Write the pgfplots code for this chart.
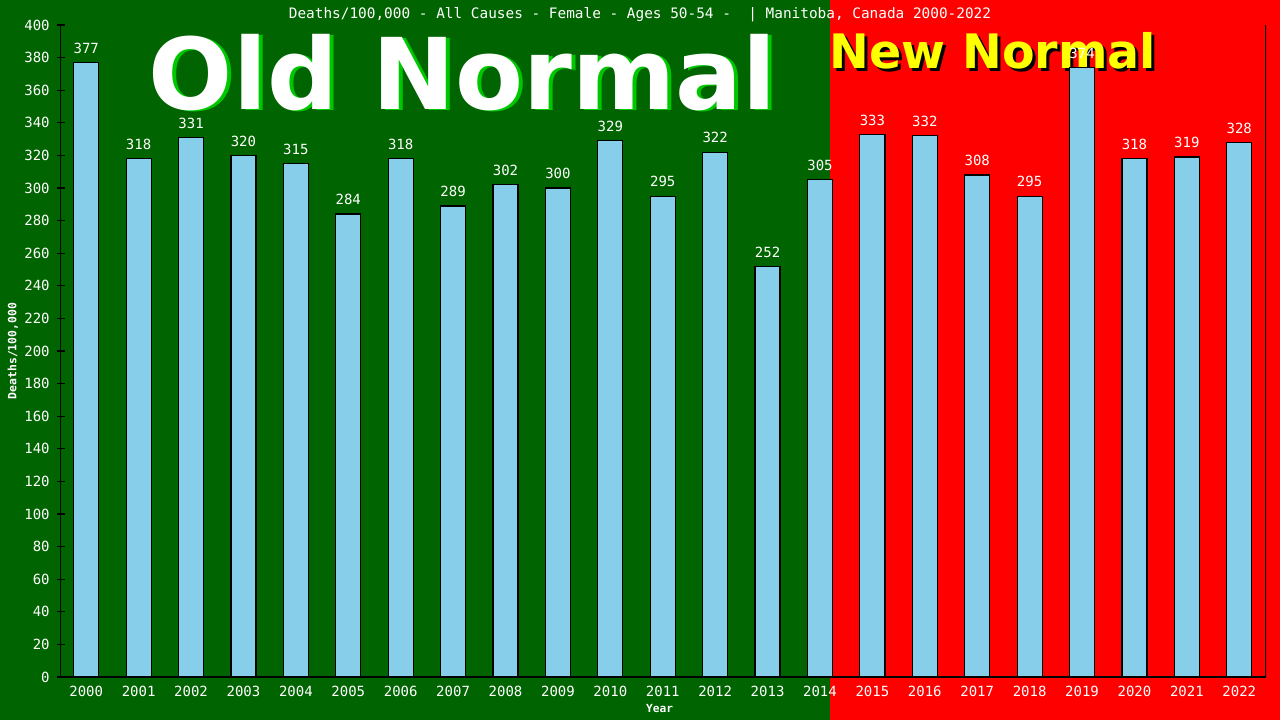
\documentclass[border=0pt]{standalone}
\usepackage{fontspec}
\setmainfont{DejaVu Sans Mono}
\newfontfamily\headfont{DejaVu Sans}
\usepackage{pgfplots}
\usepackage{pgfplotstable}
\pgfplotsset{compat=1.18}

\definecolor{oldbg}{HTML}{006400}
\definecolor{newbg}{HTML}{FF0000}
\definecolor{barfill}{HTML}{87CEEB}
\definecolor{oldshadow}{HTML}{00C800}
\definecolor{newtext}{HTML}{FFFF00}

\pgfplotstableread{
idx year value
0  2000 377
1  2001 318
2  2002 331
3  2003 320
4  2004 315
5  2005 284
6  2006 318
7  2007 289
8  2008 302
9  2009 300
10 2010 329
11 2011 295
12 2012 322
13 2013 252
14 2014 305
15 2015 333
16 2016 332
17 2017 308
18 2018 295
19 2019 374
20 2020 318
21 2021 319
22 2022 328
}\deathdata

\begin{document}
\begin{tikzpicture}[x=0.5pt,y=0.5pt]
\useasboundingbox (0,0) rectangle (1280,720);
% background halves
\fill[oldbg] (0,0) rectangle (830,720);
\fill[newbg] (830,0) rectangle (1280,720);

% big headlines
\node[anchor=base, inner sep=0pt, text=oldshadow,
      font=\headfont\bfseries\fontsize{49.5}{50}\selectfont] at (466.5,610) {Old Normal};
\node[anchor=base, inner sep=0pt, text=white,
      font=\headfont\bfseries\fontsize{49.5}{50}\selectfont] at (462.5,611) {Old Normal};
\node[anchor=base, inner sep=0pt, text=black,
      font=\headfont\bfseries\fontsize{23.75}{24}\selectfont] at (996,649) {New Normal};
\node[anchor=base, inner sep=0pt, text=newtext,
      font=\headfont\bfseries\fontsize{23.75}{24}\selectfont] at (993,652) {New Normal};

% title
\node[text=white, font=\fontsize{7.2}{8}\selectfont] at (640,705)
  {Deaths/100,000 - All Causes - Female - Ages 50-54 -~~| Manitoba, Canada 2000-2022};

\begin{axis}[
    at={(30.35pt,21.5pt)}, anchor=south west,
    scale only axis, width=602.65pt, height=326pt,
    ybar, bar width=12.5pt,
    xmin=-0.487, xmax=22.51, ymin=0, ymax=400,
    xtick=data,
    xticklabels={2000,2001,2002,2003,2004,2005,2006,2007,2008,2009,2010,2011,
                 2012,2013,2014,2015,2016,2017,2018,2019,2020,2021,2022},
    ytick={0,20,...,400},
    axis x line*=bottom, axis y line*=left,
    axis line style={-, black, line width=0.6pt},
    tick align=center, major tick length=4pt,
    xtick style={draw=none},
    ytick style={black, line width=0.6pt},
    tick label style={font=\fontsize{7}{8}\selectfont, text=white},
    /pgf/number format/assume math mode=true,
    xticklabel style={yshift=1.2pt},
    xlabel={Year}, ylabel={Deaths/100,000},
    every axis x label/.style={at={(axis description cs:0.497,-0.049)}, anchor=center,
        text=white, font=\bfseries\fontsize{5.6}{6}\selectfont},
    every axis y label/.style={at={(axis description cs:-0.0398,0.5)}, anchor=center, rotate=90,
        text=white, font=\bfseries\fontsize{5.7}{6}\selectfont},
    nodes near coords,
    every node near coord/.append style={text=white, inner sep=0pt, yshift=4.2pt,
        font=\fontsize{7}{8}\selectfont},
  ]
  \addplot[fill=barfill, draw=black, line width=0.6pt] table[x=idx, y=value] {\deathdata};
  \draw[black, line width=0.6pt] (rel axis cs:1,0) -- (rel axis cs:1,1);
\end{axis}
\end{tikzpicture}
\end{document}
